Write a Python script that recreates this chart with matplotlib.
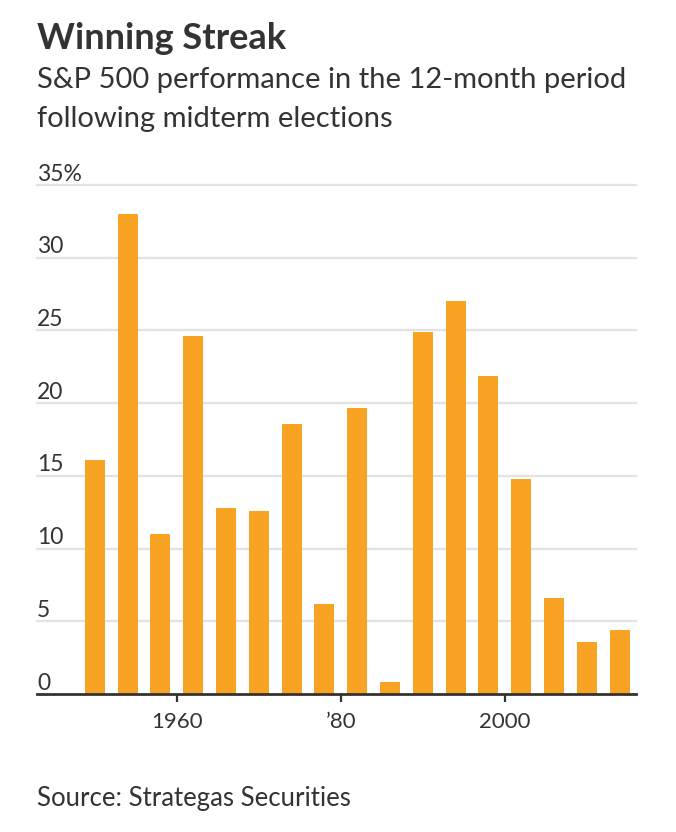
import matplotlib.pyplot as plt
from matplotlib.transforms import blended_transform_factory

years = list(range(1950, 2015, 4))
returns = [16.1, 33.0, 11.0, 24.6, 12.8, 12.55, 18.6, 6.2, 19.7, 0.85,
           24.9, 27.0, 21.9, 14.75, 6.6, 3.6, 4.4]
y_ticks = [0, 5, 10, 15, 20, 25, 30, 35]
y_labels = ["0", "5", "10", "15", "20", "25", "30", "35%"]
x_ticks = [1960, 1980, 2000]
x_labels = ["1960", "\u201980", "2000"]

plt.rcParams["font.family"] = ["Lato", "DejaVu Sans"]
text_color = "#333333"
W, H = 676, 832

fig = plt.figure(figsize=(W / 100, H / 100), dpi=100)
ax = fig.add_axes([37 / W, 1 - 694 / H, (636 - 37) / W, (694 - 185) / H])

for t in y_ticks[1:]:
    ax.axhline(t, color="#e3e3e3", linewidth=1.6, zorder=0, clip_on=False)

ax.bar(years, returns, width=2.45, color="#f9a324", zorder=2)

ax.set_xlim(1942.95, 2016.0)
ax.set_ylim(0, 35)
for s in ["top", "right", "left"]:
    ax.spines[s].set_visible(False)
ax.spines["bottom"].set_color(text_color)
ax.spines["bottom"].set_linewidth(2)
ax.spines["bottom"].set_zorder(3)

ax.set_yticks([])
ax.set_xticks(x_ticks)
ax.set_xticklabels(x_labels, fontsize=16, color=text_color)
ax.tick_params(axis="x", length=6, width=1.6, color=text_color, pad=7)

trans = blended_transform_factory(ax.transAxes, ax.transData)
for t, lab in zip(y_ticks, y_labels):
    ax.text(0, t + 0.3, lab, transform=trans, ha="left", va="baseline",
            fontsize=16.5, color=text_color)

fig.text(37 / W, 1 - 49 / H, "Winning Streak", fontsize=26, fontweight="bold",
         color=text_color, va="baseline")
fig.text(37 / W, 1 - 88 / H, "S&P 500 performance in the 12-month period",
         fontsize=21, color=text_color, va="baseline")
fig.text(37 / W, 1 - 127 / H, "following midterm elections",
         fontsize=21, color=text_color, va="baseline")
fig.text(37 / W, 1 - 806 / H, "Source: Strategas Securities",
         fontsize=18.5, color=text_color, va="baseline")

fig.savefig("out.png", dpi=100)
